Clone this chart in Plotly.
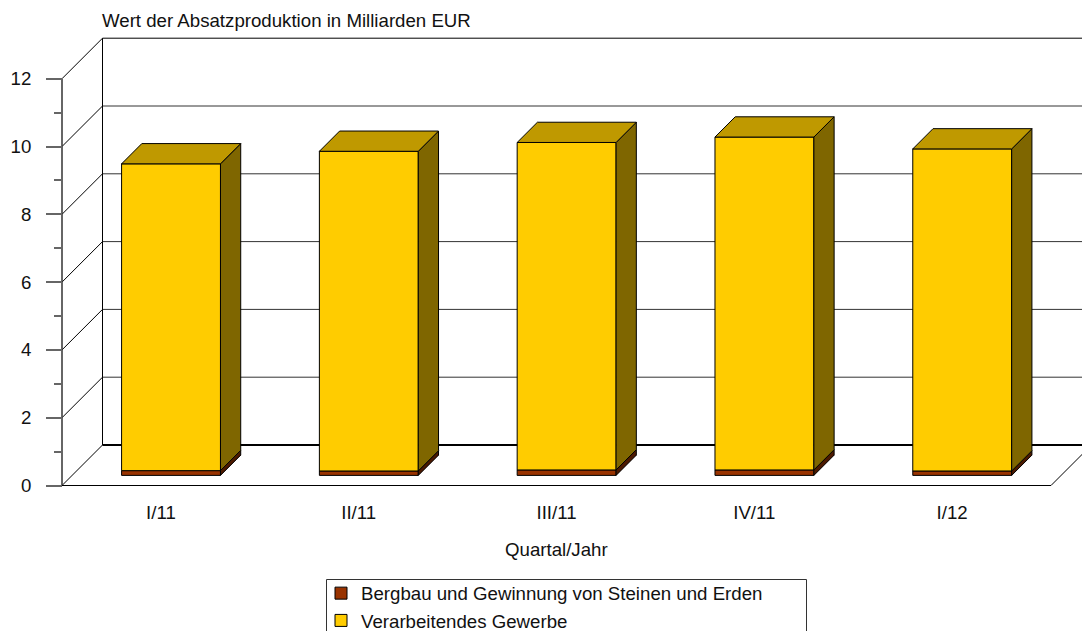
import plotly.graph_objects as go

categories = ["I/11", "II/11", "III/11", "IV/11", "I/12"]
mining = [0.14, 0.13, 0.16, 0.16, 0.13]
manufacturing = [9.05, 9.43, 9.66, 9.82, 9.50]
y_major = [0, 2, 4, 6, 8, 10, 12]
y_minor = [1, 3, 5, 7, 9, 11]

W, H = 1082, 631
PX_X = 197.8
PX_Y = 33.9
X0, Y0 = 62, 485.5
DX = 40.5 / PX_X
DY = 40.5 / PX_Y
BAR_W = 0.5
BLACK = "#000000"
FS = 18.67

fig = go.Figure()

def seg(x0, y0, x1, y1, color=BLACK, width=1):
    fig.add_shape(type="line", x0=x0, y0=y0, x1=x1, y1=y1, xref="x", yref="y",
                  layer="below", line=dict(color=color, width=width))

# walls and floor
xmax = (W - X0) / PX_X + DX
for v in y_major:
    c = BLACK if v in (0, 12) else "#333333"
    seg(0, v, DX, v + DY, BLACK, 1)
    seg(DX, v + DY, xmax, v + DY, c, 2 if v == 0 else 1)
seg(0, 0, 0, 12, "#333333", 1.5)
seg(DX, DY, DX, 12 + DY, BLACK, 1)
seg(0, 0, 5, 0, BLACK, 1)
seg(5, 0, 5 + DX, DY, BLACK, 1)

# legend frame (runs past the bottom of the page, as in the reference)
fig.add_shape(type="rect", xref="paper", yref="paper", x0=326.5 / W, x1=806.5 / W,
              y0=-0.02, y1=1 - 579.5 / H, layer="below",
              line=dict(color="#333333", width=1), fillcolor="white")

xs = [i + 0.5 + 0.25 * DX for i in range(5)]
base0 = 0.25 * DY
depth_x = 0.5 * DX
depth_y = 0.5 * DY

def face(px, py, fill):
    fig.add_trace(go.Scatter(x=px, y=py, mode="lines", fill="toself", fillcolor=fill,
                             line=dict(color=BLACK, width=1), showlegend=False,
                             hoverinfo="skip"))

fig.add_trace(go.Bar(x=xs, y=mining, base=[base0] * 5, width=BAR_W, name="Bergbau und Gewinnung von Steinen und Erden",
                     marker=dict(color="#993300", line=dict(color=BLACK, width=1))))
tops = [base0 + m for m in mining]
fig.add_trace(go.Bar(x=xs, y=manufacturing, base=tops, width=BAR_W, name="Verarbeitendes Gewerbe",
                     marker=dict(color="#FFCC00", line=dict(color=BLACK, width=1))))

for i in range(5):
    l = xs[i] - BAR_W / 2
    r = xs[i] + BAR_W / 2
    t1 = tops[i]
    t2 = tops[i] + manufacturing[i]
    face([r, r + depth_x, r + depth_x, r, r], [base0, base0 + depth_y, t1 + depth_y, t1, base0], "#4C1900")
    face([r, r + depth_x, r + depth_x, r, r], [t1, t1 + depth_y, t2 + depth_y, t2, t1], "#7F6600")
    face([l, l + depth_x, r + depth_x, r, l], [t2, t2 + depth_y, t2 + depth_y, t2, t2], "#BF9900")

FONT = "Liberation Sans, Arial, sans-serif"
fig.add_annotation(text="Wert der Absatzproduktion in Milliarden EUR", xref="paper", yref="paper",
                   x=100 / W, y=1 - 21 / H, xanchor="left", yanchor="middle", showarrow=False,
                   font=dict(size=FS, color="#111111", family=FONT))
fig.add_annotation(text="Quartal/Jahr", xref="x", yref="paper", x=2.5, y=1 - 549 / H,
                   xanchor="center", yanchor="middle", showarrow=False,
                   font=dict(size=FS, color="#111111", family=FONT))

fig.update_layout(
    width=W, height=H, margin=dict(l=0, r=0, t=0, b=0, autoexpand=False),
    paper_bgcolor="white", plot_bgcolor="white", barmode="overlay",
    font=dict(family=FONT, color="#111111", size=FS),
    xaxis=dict(range=[-X0 / PX_X, (W - X0) / PX_X], domain=[0, 1], showgrid=False, zeroline=False,
               tickmode="array", tickvals=[i + 0.5 for i in range(5)], ticktext=categories,
               ticks="", anchor="free", position=1 - Y0 / H, ticklabelstandoff=14,
               tickfont=dict(size=FS, family=FONT), showline=False),
    yaxis=dict(range=[(Y0 - H) / PX_Y, Y0 / PX_Y], domain=[0, 1], showgrid=False, zeroline=False,
               tickmode="array", tickvals=y_major, ticks="outside", ticklen=16, tickwidth=1.5,
               tickcolor="#666666", anchor="free", position=X0 / W, ticklabelstandoff=11,
               tickfont=dict(size=FS, family=FONT), showline=False,
               minor=dict(tickmode="array", tickvals=y_minor, ticks="outside", ticklen=8,
                          tickwidth=1.5, tickcolor="#666666")),
    legend=dict(x=321 / W, y=1 - 574.5 / H, xanchor="left", yanchor="top", bgcolor="rgba(0,0,0,0)",
                borderwidth=0, font=dict(size=FS, family=FONT, color="#111111"),
                traceorder="normal"),
)
fig.write_html("out.html", config={"displayModeBar": False},
               post_script="document.body.style.margin='0';")
